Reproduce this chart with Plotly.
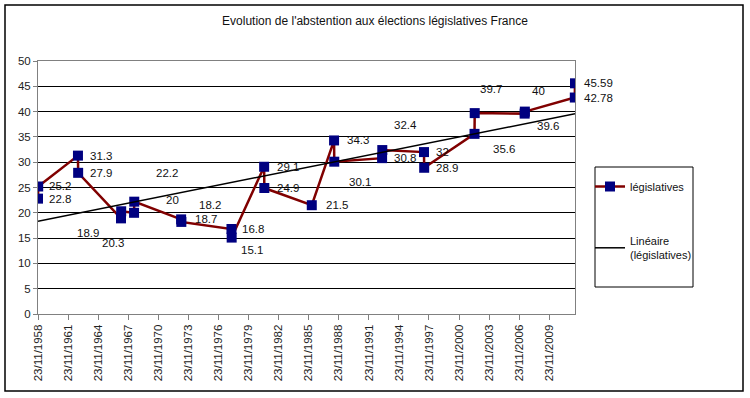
import numpy as np
import pandas as pd
import plotly.graph_objects as go

# ---- data ----
dates = ["1958-11-23", "1958-11-30", "1962-11-18", "1962-11-25",
         "1967-03-05", "1967-03-12", "1968-06-23", "1968-06-30",
         "1973-03-04", "1973-03-11", "1978-03-12", "1978-03-19",
         "1981-06-14", "1981-06-21", "1986-03-16",
         "1988-06-05", "1988-06-12", "1993-03-21", "1993-03-28",
         "1997-05-25", "1997-06-01", "2002-06-09", "2002-06-16",
         "2007-06-10", "2007-06-17", "2012-06-10", "2012-06-17"]
abstention = [22.8, 25.2, 31.3, 27.9,
              18.9, 20.3, 20.0, 22.2,
              18.7, 18.2, 16.8, 15.1,
              29.1, 24.9, 21.5,
              34.3, 30.1, 30.8, 32.4,
              32.0, 28.9, 35.6, 39.7,
              39.6, 40.0, 42.78, 45.59]
labels = [f"{v:g}" for v in abstention]
y_ticks = list(range(0, 51, 5))

# label offsets (pixels, right / down) as placed in the original chart
label_dx = [9, 9, 10, 10, -46, -21, 30, 20, 12, 16, 9, 7, 11, 11, 12,
            11, 13, 10, 10, 10, 10, 16, 3, 10, 5, 7, 7]
label_dy = [0, 0, 0, 0, 15, 32, -13, -29, 0, -17, 0, 12, 0, 0, 0,
            0, 20, 0, -25, 0, 0, 15, -24, 12, -21, 0, 0]

FONT = "Liberation Sans, Arial, sans-serif"

# ---- linear trend (as Excel's "Linéaire") ----
dt = pd.to_datetime(dates)
xnum = (dt - dt[0]).days.values.astype(float)
slope, intercept = np.polyfit(xnum, np.array(abstention), 1)
trend_x = [dates[0], dates[-1]]
trend_y = [intercept, intercept + slope * xnum[-1]]

fig = go.Figure()
fig.add_trace(go.Scatter(
    x=dates, y=abstention, mode="lines+markers", name="législatives",
    line=dict(color="#800000", width=2.5),
    marker=dict(symbol="square", size=10, color="#000080"),
    legendrank=1, legendgroup="a",
))
fig.add_trace(go.Scatter(
    x=trend_x, y=trend_y, mode="lines", name="Linéaire<br>(législatives)",
    line=dict(color="#000000", width=1.5),
    legendrank=2, legendgroup="b",
))

for d, v, t, dx, dy in zip(dates, abstention, labels, label_dx, label_dy):
    fig.add_annotation(x=d, y=v, text=t, showarrow=False,
                       xanchor="left", yanchor="middle",
                       xshift=dx, yshift=-dy,
                       font=dict(family=FONT, size=11.5, color="#111111"))

# plot area px: x 38..575, y 61..314
L, R, T, B = 38, 575, 61, 314
W, H = 750, 398
pw, ph = R - L, B - T
def px(x):
    return (x - L) / pw
def py(y):
    return (B - y) / ph

# outer chart border
fig.add_shape(type="rect", xref="paper", yref="paper",
              x0=px(5), x1=px(743), y0=py(391), y1=py(5),
              line=dict(color="#000000", width=1.5), layer="below")
# legend box
fig.add_shape(type="rect", xref="paper", yref="paper",
              x0=px(595), x1=px(693), y0=py(287), y1=py(167),
              line=dict(color="#000000", width=1), layer="below")

fig.update_layout(
    width=W, height=H,
    margin=dict(l=L, r=W - R, t=T, b=H - B, pad=0),
    paper_bgcolor="white", plot_bgcolor="white",
    font=dict(family=FONT, size=11.5, color="#111111"),
    title=dict(text="Evolution de l'abstention aux élections législatives France",
               x=0.5, xref="container", xanchor="center",
               y=1 - 21 / H, yref="container", yanchor="middle",
               font=dict(family=FONT, size=12, color="#111111")),
    showlegend=True,
    legend=dict(x=px(590), y=py(172), xanchor="left", yanchor="top",
                bgcolor="rgba(0,0,0,0)", borderwidth=0,
                tracegroupgap=36, traceorder="grouped",
                itemwidth=30,
                font=dict(family=FONT, size=11, color="#111111")),
    xaxis=dict(
        type="date",
        range=[dates[0], dates[-1]],
        tick0=dates[0], dtick="M36", tickformat="%d/%m/%Y",
        tickangle=-90, ticks="outside", ticklen=5, tickcolor="#808080",
        showline=True, linecolor="#808080", linewidth=1, mirror=True,
        showgrid=False, zeroline=False,
        tickfont=dict(family=FONT, size=11.5, color="#222222"),
    ),
    yaxis=dict(
        range=[0, 50], tickvals=y_ticks, ticks="outside", ticklen=4,
        tickcolor="#808080",
        showline=True, linecolor="#808080", linewidth=1, mirror=True,
        showgrid=True, gridcolor="#000000", gridwidth=1, zeroline=False,
        tickfont=dict(family=FONT, size=11.5, color="#222222"),
    ),
)

fig.write_html("out.html",
               config={"displayModeBar": False},
               post_script="document.body.style.margin='0';")
